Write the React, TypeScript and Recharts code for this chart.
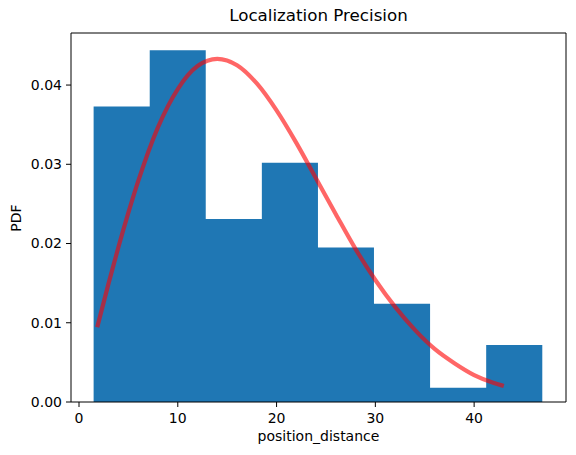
import {
  ComposedChart,
  Area,
  Line,
  XAxis,
  YAxis,
  ReferenceLine,
} from "recharts";

// histogram bins (left edges + final right edge) and densities
const binEdges = [1.48, 7.16, 12.83, 18.51, 24.19, 29.86, 35.54, 41.22, 46.9];
const binDensity = [0.0373, 0.0444, 0.0231, 0.0302, 0.0195, 0.0124, 0.0018, 0.0072];

// fitted pdf curve
const curveX = [1.9, 3, 4, 5, 6, 8, 10, 12, 14, 16, 18, 20, 22, 24, 26, 28, 30, 32, 34, 36, 38, 40, 42, 42.8];
const curveY = [
  0.0097, 0.015, 0.0196, 0.0239, 0.0279, 0.0347, 0.0395, 0.0424, 0.0433, 0.0425, 0.0402, 0.0368,
  0.0327, 0.0282, 0.0237, 0.0193, 0.0154, 0.012, 0.0091, 0.0067, 0.0049, 0.0034, 0.0024, 0.0021,
];

const xTicks = [0, 10, 20, 30, 40];
const yTicks = [0, 0.01, 0.02, 0.03, 0.04];

const X_MIN = -0.81;
const X_MAX = 49.3;
const Y_MAX = 0.04657;

const histData = binEdges.map((x, i) => ({
  x,
  density: binDensity[Math.min(i, binDensity.length - 1)],
}));
const curveData = curveX.map((x, i) => ({ x, pdf: curveY[i] }));

const FONT = "DejaVu Sans, sans-serif";
const tickStyle = { fill: "#000", fontSize: 14, fontFamily: FONT };

export default function App() {
  return (
    <div style={{ position: "absolute", left: 0, top: 0, width: 576, height: 455, background: "#fff" }}>
      <ComposedChart
        width={576}
        height={455}
        margin={{ top: 33, right: 10, bottom: 0, left: 0 }}
      >
        <XAxis
          type="number"
          dataKey="x"
          domain={[X_MIN, X_MAX]}
          ticks={xTicks}
          allowDataOverflow
          height={53}
          tickSize={5}
          tickMargin={6}
          stroke="#000"
          tick={tickStyle}
          tickLine={{ stroke: "#000" }}
        />
        <YAxis
          type="number"
          domain={[0, Y_MAX]}
          ticks={yTicks}
          allowDataOverflow
          width={71}
          tickSize={5}
          tickMargin={4}
          stroke="#000"
          tick={tickStyle}
          tickFormatter={(v: number) => v.toFixed(2)}
        />
        <Area
          data={histData}
          dataKey="density"
          type="stepAfter"
          fill="#1f77b4"
          fillOpacity={1}
          stroke="none"
          isAnimationActive={false}
        />
        <Line
          data={curveData}
          dataKey="pdf"
          type="monotone"
          stroke="red"
          strokeOpacity={0.6}
          strokeWidth={4.2}
          strokeLinecap="square"
          dot={false}
          activeDot={false}
          isAnimationActive={false}
        />
        <ReferenceLine y={Y_MAX} stroke="#000" strokeWidth={1} ifOverflow="extendDomain" />
        <ReferenceLine x={X_MAX} stroke="#000" strokeWidth={1} ifOverflow="extendDomain" />
      </ComposedChart>
      <div
        style={{
          position: "absolute",
          left: 71,
          width: 495,
          top: 5,
          textAlign: "center",
          fontFamily: FONT,
          fontSize: 16.7,
          color: "#000",
          lineHeight: "20px",
        }}
      >
        Localization Precision
      </div>
      <div
        style={{
          position: "absolute",
          left: 71,
          width: 495,
          top: 427,
          textAlign: "center",
          fontFamily: FONT,
          fontSize: 14,
          color: "#000",
          lineHeight: "18px",
        }}
      >
        position_distance
      </div>
      <div
        style={{
          position: "absolute",
          left: 16 - 30,
          top: 218 - 9,
          width: 60,
          textAlign: "center",
          fontFamily: FONT,
          fontSize: 14,
          color: "#000",
          lineHeight: "18px",
          transform: "rotate(-90deg)",
        }}
      >
        PDF
      </div>
    </div>
  );
}
